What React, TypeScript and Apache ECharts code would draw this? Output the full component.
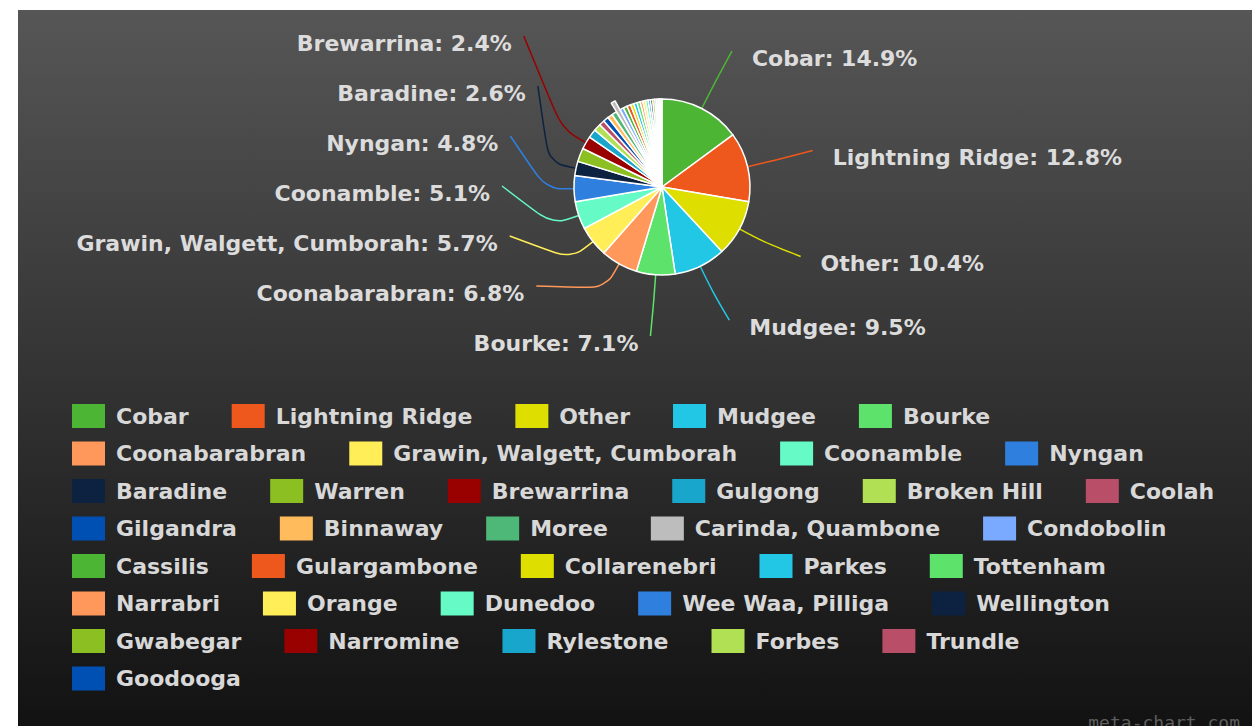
import React, { useEffect, useRef } from 'react';
import * as echarts from 'echarts';

const categories = [
  'Cobar', 'Lightning Ridge', 'Other', 'Mudgee', 'Bourke',
  'Coonabarabran', 'Grawin, Walgett, Cumborah', 'Coonamble', 'Nyngan',
  'Baradine', 'Warren', 'Brewarrina', 'Gulgong', 'Broken Hill', 'Coolah',
  'Gilgandra', 'Binnaway', 'Moree', 'Carinda, Quambone', 'Condobolin',
  'Cassilis', 'Gulargambone', 'Collarenebri', 'Parkes', 'Tottenham',
  'Narrabri', 'Orange', 'Dunedoo', 'Wee Waa, Pilliga', 'Wellington',
  'Gwabegar', 'Narromine', 'Rylestone', 'Forbes', 'Trundle', 'Goodooga',
];

const values = [
  14.9, 12.8, 10.4, 9.5, 7.1,
  6.8, 5.7, 5.1, 4.8,
  2.6, 2.5, 2.4, 1.6, 1.3, 1.0,
  1.0, 0.9, 0.9, 0.8, 0.7,
  0.7, 0.7, 0.6, 0.6, 0.6,
  0.5, 0.5, 0.5, 0.4, 0.4,
  0.4, 0.3, 0.3, 0.3, 0.2, 0.2,
];

// number of legend entries on each legend row, in category order
const legendRowSizes = [5, 4, 6, 5, 5, 5, 5, 1];

const palette = [
  '#4cb534', '#ee581c', '#dede00', '#22c7e6', '#5de36b',
  '#ff985a', '#ffee58', '#66fbc6', '#2f7fde', '#0c2240',
  '#8cbf22', '#990000', '#19a6cc', '#b2e055', '#b84e68',
  '#0050b4', '#ffbb5c', '#4db877', '#bdbdbd', '#7aaaff',
];

const labeledNames = [
  'Cobar', 'Lightning Ridge', 'Other', 'Mudgee', 'Bourke', 'Coonabarabran',
  'Grawin, Walgett, Cumborah', 'Coonamble', 'Nyngan', 'Baradine', 'Brewarrina',
];

const selectedName = 'Carinda, Quambone';

// pie geometry (container pixels)
const CX = 644;
const CY = 177;
const R = 88;

export default function App() {
  const ref = useRef<HTMLDivElement>(null);

  useEffect(() => {
    const chart = echarts.init(ref.current!, null, { renderer: 'svg' });
    const data = categories.map((name, i) => ({
      name,
      value: values[i],
      selected: name === selectedName,
      label: { show: labeledNames.includes(name) },
      labelLine: { show: labeledNames.includes(name) },
    }));

    // mid angle (clockwise from 12 o'clock, radians) of each slice
    const total = values.reduce((a, b) => a + b, 0);
    const midAngle: number[] = [];
    let acc = 0;
    values.forEach((v) => {
      midAngle.push(((acc + v / 2) / total) * Math.PI * 2);
      acc += v;
    });

    // label target positions: left side spread evenly, right side natural
    const labeledIdx = categories
      .map((n, i) => i)
      .filter((i) => labeledNames.includes(categories[i]));
    const leftIdx = labeledIdx
      .filter((i) => midAngle[i] > Math.PI)
      .sort((a, b) => midAngle[b] - midAngle[a]);
    const rightIdx = labeledIdx
      .filter((i) => midAngle[i] <= Math.PI)
      .sort((a, b) => midAngle[a] - midAngle[b]);
    const targetY: Record<number, number> = {};
    const gap = 50;
    leftIdx.forEach((idx, k) => {
      targetY[idx] = CY + 6 + (k - (leftIdx.length - 1) / 2) * gap;
    });
    let lastY = -Infinity;
    rightIdx.forEach((idx) => {
      let y = CY + 5 - Math.cos(midAngle[idx]) * 150;
      if (y < lastY + gap) y = lastY + gap;
      targetY[idx] = y;
      lastY = y;
    });

    const labelLayout = (params: any) => {
      const i = params.dataIndex;
      if (targetY[i] == null) return {};
      const a = midAngle[i];
      const sx = Math.sin(a);
      const sy = -Math.cos(a);
      const left = a > Math.PI;
      const dir = left ? -1 : 1;
      const lineR = left ? 160 : 155;
      const ty = targetY[i];
      const ey = ty - 7;
      const dy = Math.abs(ey - CY);
      const offX = dy > 0.85 * lineR
        ? Math.abs(sx) * lineR
        : Math.sqrt(lineR * lineR - dy * dy);
      const ex = CX + dir * offX;
      const p0 = [CX + sx * R, CY + sy * R];
      const p1 = [CX + sx * (R + 28), CY + sy * (R + 28)];
      const tx = ex + dir * (left ? 12 : 20);
      return {
        x: tx,
        y: ty,
        align: left ? 'right' : 'left',
        verticalAlign: 'middle',
        labelLinePoints: [p0, p1, [ex, ey]],
      };
    };

    const legends: any[] = [];
    let start = 0;
    legendRowSizes.forEach((size, row) => {
      legends.push({
        show: true,
        left: 54,
        top: 394 + row * 37.5,
        padding: 0,
        itemWidth: 33,
        itemHeight: 24,
        itemGap: 43,
        icon: 'rect',
        itemStyle: { borderWidth: 0 },
        textStyle: {
          color: '#d8d8d8',
          fontSize: 22,
          fontFamily: 'DejaVu Sans',
          fontWeight: 'bold',
          lineHeight: 24,
          padding: [0, 0, 0, 6],
        },
        data: categories.slice(start, start + size),
        selectedMode: false,
      });
      start += size;
    });

    chart.setOption({
      animation: false,
      backgroundColor: {
        type: 'linear', x: 0, y: 0, x2: 0, y2: 1,
        colorStops: [
          { offset: 0, color: '#565656' },
          { offset: 1, color: '#121212' },
        ],
      },
      color: palette,
      legend: legends,
      graphic: [
        {
          type: 'text',
          right: 12,
          top: 703,
          style: {
            text: 'meta-chart.com',
            fill: '#5e5e5e',
            font: '18px "DejaVu Sans Mono"',
          },
        },
      ],
      series: [
        {
          type: 'pie',
          center: [CX, CY],
          radius: R,
          startAngle: 90,
          clockwise: true,
          selectedMode: 'single',
          selectedOffset: 10,
          avoidLabelOverlap: false,
          itemStyle: { borderColor: '#ffffff', borderWidth: 1.5 },
          label: {
            position: 'outside',
            formatter: '{b}: {c}%',
            color: '#dcdcdc',
            fontSize: 22,
            fontWeight: 'bold',
            fontFamily: 'DejaVu Sans',
          },
          labelLine: {
            length: 28,
            length2: 30,
            smooth: 0.35,
            lineStyle: { width: 1.5 },
          },
          labelLayout,
          emphasis: { disabled: true },
          data,
        },
      ],
    });
    return () => chart.dispose();
  }, []);

  return (
    <div
      ref={ref}
      style={{ position: 'absolute', left: 18, top: 10, width: 1234, height: 716 }}
    />
  );
}
